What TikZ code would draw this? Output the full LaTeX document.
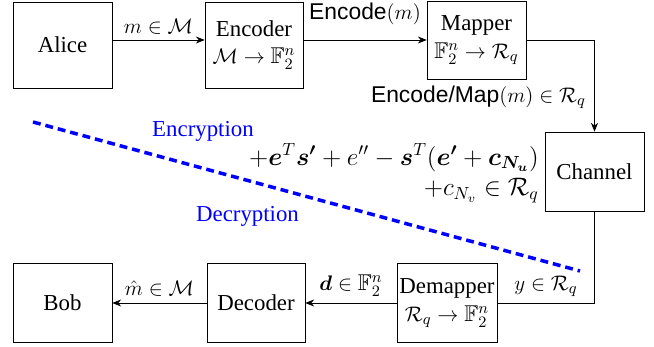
\documentclass[tikz,border=0pt]{standalone}
\usepackage{fontspec}
\setmainfont{Liberation Serif}
\setsansfont{Liberation Sans}
\usepackage{amsmath, amssymb, bm}
\usetikzlibrary{arrows.meta, positioning, calc}

\begin{document}
\begin{tikzpicture}[
  every node/.style={font=\fontsize{13}{15.6}\selectfont},
  blk/.style={draw, align=center, inner sep=1pt, minimum width=1.98cm, minimum height=1.58cm},
  flow/.style={-{Stealth[length=5pt, width=4pt]}},
]
  \useasboundingbox (0,0) rectangle (13.08,6.94);

  % Sender side
  \node[blk, minimum height=1.72cm] (alice) at (1.25, 6.04) {Alice};
  \node[blk, minimum width=1.96cm, minimum height=1.72cm] (encoder) at (5.08, 6.04) {Encoder\\ $\mathcal{M}\to\mathbb{F}_2^n$};
  \node[blk, minimum height=1.56cm] (mapper) at (9.53, 6.14) {Mapper\\ $\mathbb{F}_2^n\to\mathcal{R}_q$};

  % Channel
  \node[blk] (channel) at (11.89, 3.51) {Channel};

  % Receiver side
  \node[blk] (bob) at (1.25, 0.88) {Bob};
  \node[blk, minimum width=1.96cm] (decoder) at (5.12, 0.88) {Decoder};
  \node[blk, minimum width=2.0cm] (demapper) at (8.94, 0.88) {Demapper\\ $\mathcal{R}_q\to\mathbb{F}_2^n$};

  % Forward path
  \draw[flow] (alice.east |- mapper.east) -- (encoder.west |- mapper.east);
  \node (lblm) at (3.17, 6.40) {$m\in\mathcal{M}$};
  \draw[flow] (encoder.east |- mapper.west) -- (mapper.west);
  \node (lblenc) at (7.30, 6.66) {\textsf{Encode}$(m)$};
  \draw[flow] (mapper.east) -| (channel.north);
  \node[anchor=east] (lblmap) at (11.84, 5.00) {\textsf{Encode/Map}$(m)\in\mathcal{R}_q$};

  % Ciphertext terms
  \node[anchor=east, align=right, font=\fontsize{14}{16}\selectfont] (cipher) at (10.90, 3.47) {$+\bm{e}^T\bm{s'}+e''-\bm{s}^T(\bm{e'}+\bm{c}_{\bm{N_u}})$\\[1.5pt] $+c_{N_v}\in\mathcal{R}_q$};

  % Encryption / decryption split
  \coordinate (splitA) at (0.66, 4.50);
  \coordinate (splitB) at (11.60, 1.52);
  \draw[blue, line width=2pt, dash pattern=on 4.5pt off 2.8pt] (splitA) -- (splitB);
  \node[text=blue] (enc) at (4.06, 4.32) {Encryption};
  \node[text=blue] (dec) at (4.95, 2.62) {Decryption};

  % Return path
  \draw (channel.south) |- node[pos=0.75, above] (lbly) {$y\in\mathcal{R}_q$} (demapper.east);
  \draw[flow] (demapper.west) -- node[above] (lbld) {$\bm{d}\in\mathbb{F}_2^n$} (decoder.east);
  \draw[flow] (decoder.west) -- node[above] (lblmhat) {$\hat{m}\in\mathcal{M}$} (bob.east);
\end{tikzpicture}
\end{document}
